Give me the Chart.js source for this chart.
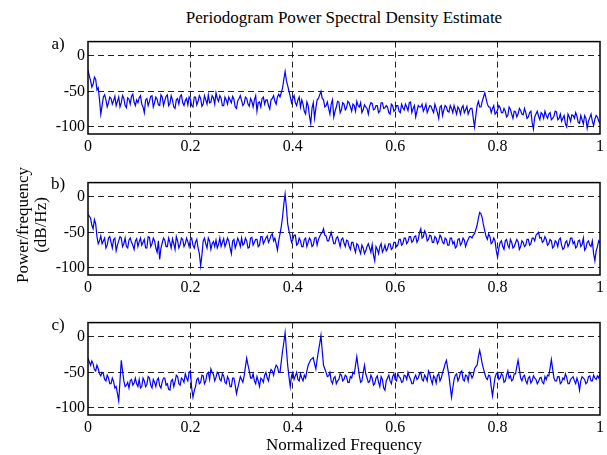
<!DOCTYPE html>
<html>
<head>
<meta charset="utf-8">
<script src="https://cdn.jsdelivr.net/npm/chart.js@4"></script>
<style>
  html, body { margin: 0; padding: 0; background: #fff; }
  #wrap { position: relative; width: 607px; height: 455px; overflow: hidden; font-family: "Liberation Serif", "Times New Roman", serif; color: #000; }
  canvas { position: absolute; left: 0; }
  .t { position: absolute; white-space: nowrap; font-size: 17px; line-height: 17px; transform: translate(-50%, -50%); }
  .r { transform: translate(-50%, -50%) rotate(-90deg); }
</style>
</head>
<body>
<div id="wrap">
  <canvas id="ca" width="607" height="127" style="top:29px"></canvas>
  <canvas id="cb" width="607" height="127" style="top:170px"></canvas>
  <canvas id="cc" width="607" height="127" style="top:310px"></canvas>
  <div class="t" style="left:344px; top:17px;">Periodogram Power Spectral Density Estimate</div>
  <div class="t" style="left:58px; top:43px;">a)</div>
  <div class="t" style="left:58px; top:183px;">b)</div>
  <div class="t" style="left:58px; top:324px;">c)</div>
  <div class="t r" style="left:22px; top:225px;">Power/frequency</div>
  <div class="t r" style="left:40px; top:225px;">(dB/Hz)</div>
  <div class="t" style="left:344px; top:444px;">Normalized Frequency</div>
</div>
<script>
// Frequency step of the sampled estimates (normalized frequency 0..1)
const freqStep = 0.005;
const xTicks = [0, 0.2, 0.4, 0.6, 0.8, 1];
const yTicks = [-100, -50, 0];

// a) PSD estimate (dB/Hz) at k*freqStep
const psdA = [
  -20, -35, -40, -33, -45, -82, -58, -62, -66, -60,
  -63, -70, -58, -66, -60, -73, -61, -57, -65, -62,
  -59, -68, -80, -60, -64, -56, -66, -61, -70, -58,
  -63, -55, -67, -62, -74, -60, -57, -66, -63, -69,
  -61, -72, -58, -64, -60, -68, -62, -55, -65, -59,
  -52, -64, -60, -70, -62, -58, -66, -61, -74, -60,
  -63, -67, -60, -71, -64, -62, -78, -65, -60, -68,
  -62, -75, -60, -64, -58, -58, -45, -22, -42, -57,
  -60, -66, -62, -72, -68, -82, -70, -95, -66, -74,
  -60, -50, -62, -70, -74, -68, -86, -72, -65, -76,
  -68, -73, -66, -78, -70, -64, -72, -80, -69, -74,
  -71, -67, -75, -70, -78, -66, -73, -72, -82, -70,
  -76, -70, -80, -73, -68, -77, -65, -74, -86, -70,
  -72, -78, -68, -75, -71, -80, -74, -88, -70, -76,
  -72, -79, -74, -70, -82, -75, -73, -80, -71, -77,
  -74, -100, -70, -72, -64, -52, -68, -72, -74, -82,
  -76, -73, -80, -78, -84, -75, -88, -79, -82, -77,
  -83, -80, -86, -78, -103, -82, -85, -80, -88, -84,
  -82, -90, -85, -79, -88, -92, -84, -100, -86, -83,
  -88, -85, -95, -90, -84, -102, -87, -92, -89, -86,
  -95
];
// a) PSD estimate at (k+0.5)*freqStep
const psdAMid = [
  -28, -44, -30, -48, -62, -70, -55, -72, -58, -68,
  -57, -64, -72, -56, -70, -59, -68, -54, -70, -66,
  -56, -72, -62, -70, -57, -72, -58, -69, -55, -70,
  -57, -70, -56, -72, -62, -68, -55, -70, -60, -58,
  -70, -58, -69, -56, -71, -56, -68, -66, -56, -68,
  -60, -56, -70, -58, -68, -62, -57, -72, -63, -56,
  -70, -58, -68, -60, -72, -56, -66, -72, -58, -62,
  -70, -62, -56, -68, -54, -52, -33, -35, -50, -66,
  -56, -70, -58, -62, -78, -65, -85, -74, -88, -62,
  -55, -60, -72, -65, -82, -62, -78, -64, -80, -66,
  -76, -64, -72, -68, -78, -70, -66, -76, -72, -82,
  -66, -76, -70, -80, -66, -74, -70, -80, -68, -78,
  -70, -78, -68, -76, -72, -66, -80, -70, -78, -72,
  -68, -74, -80, -70, -76, -68, -80, -72, -84, -70,
  -78, -70, -80, -76, -72, -82, -70, -76, -82, -74,
  -88, -84, -64, -72, -58, -60, -72, -80, -70, -80,
  -70, -80, -74, -86, -72, -82, -78, -86, -74, -82,
  -74, -88, -80, -94, -86, -78, -90, -82, -78, -88,
  -80, -88, -78, -90, -82, -88, -96, -82, -92, -84,
  -80, -94, -84, -96, -88, -92, -82, -98, -84, -92
];

// b) PSD estimate (dB/Hz) at k*freqStep
const psdB = [
  -25, -30, -45, -38, -66, -55, -62, -72, -58, -64,
  -60, -76, -62, -58, -66, -70, -61, -64, -74, -59,
  -63, -68, -60, -72, -57, -66, -62, -78, -88, -65,
  -61, -70, -64, -59, -74, -62, -67, -60, -66, -63,
  -60, -68, -64, -72, -97, -62, -66, -58, -74, -63,
  -61, -67, -70, -59, -65, -62, -80, -60, -66, -63,
  -58, -66, -62, -71, -57, -64, -60, -68, -56, -62,
  -55, -60, -52, -58, -75, -52, -28, 4, -38, -55,
  -60, -54, -66, -62, -70, -58, -64, -61, -68, -57,
  -60, -52, -45, -55, -62, -50, -66, -58, -63, -60,
  -65, -61, -70, -64, -72, -66, -75, -68, -80, -70,
  -72, -67, -90, -74, -70, -78, -68, -73, -66, -72,
  -64, -68, -60, -66, -58, -63, -56, -62, -55, -60,
  -45, -56, -52, -60, -55, -64, -58, -62, -57, -66,
  -60, -68, -58, -63, -70, -59, -65, -61, -64, -56,
  -58, -52, -40, -22, -30, -48, -60, -56, -64, -62,
  -85, -64, -70, -62, -68, -60, -72, -65, -63, -70,
  -64, -68, -60, -66, -58, -54, -50, -57, -62, -60,
  -66, -62, -70, -64, -60, -68, -72, -62, -66, -58,
  -63, -70, -61, -67, -75, -64, -68, -62, -90, -70,
  -65
];
// b) PSD estimate at (k+0.5)*freqStep
const psdBMid = [
  -27, -40, -32, -56, -62, -66, -58, -68, -56, -72,
  -58, -68, -56, -70, -58, -72, -58, -68, -62, -70,
  -58, -64, -72, -56, -70, -58, -72, -62, -72, -58,
  -70, -58, -72, -66, -56, -72, -58, -70, -58, -70,
  -58, -72, -60, -80, -82, -58, -72, -62, -66, -70,
  -72, -58, -64, -70, -58, -72, -62, -72, -58, -70,
  -68, -58, -72, -58, -68, -60, -70, -56, -66, -58,
  -64, -54, -62, -66, -62, -42, -10, -15, -48, -64,
  -54, -68, -58, -70, -60, -70, -58, -70, -58, -68,
  -56, -50, -54, -62, -56, -58, -66, -56, -70, -58,
  -70, -62, -74, -64, -78, -68, -80, -72, -76, -66,
  -78, -82, -70, -80, -66, -74, -76, -66, -74, -64,
  -70, -60, -68, -58, -66, -56, -64, -56, -64, -50,
  -58, -48, -62, -54, -64, -56, -66, -54, -64, -58,
  -68, -58, -66, -72, -60, -68, -58, -70, -60, -56,
  -54, -46, -30, -24, -40, -56, -52, -66, -58, -76,
  -72, -62, -74, -60, -72, -64, -70, -60, -74, -62,
  -70, -60, -68, -58, -62, -52, -58, -64, -56, -68,
  -60, -72, -62, -70, -58, -74, -64, -70, -58, -66,
  -72, -62, -70, -58, -72, -62, -70, -80, -76, -62
];

// c) PSD estimate (dB/Hz) at k*freqStep
const psdC = [
  -30, -40, -38, -48, -45, -55, -52, -62, -58, -66,
  -63, -70, -90, -33, -62, -68, -72, -60, -65, -66,
  -60, -70, -62, -67, -58, -72, -64, -61, -69, -63,
  -58, -66, -75, -60, -63, -56, -68, -60, -52, -62,
  -48, -85, -70, -58, -64, -55, -62, -50, -45, -53,
  -57, -52, -62, -55, -66, -60, -70, -58, -80, -64,
  -60, -55, -30, -48, -58, -62, -56, -70, -60, -54,
  -58, -52, -48, -45, -42, -50, -20, 6, -40, -70,
  -50, -55, -60, -52, -62, -58, -40, -32, -29, -45,
  -20, 2, -40, -50, -55, -62, -58, -66, -60, -54,
  -60, -56, -64, -58, -52, -28, -55, -62, -40, -58,
  -63, -58, -66, -55, -70, -60, -75, -58, -62, -56,
  -60, -52, -58, -63, -55, -50, -60, -66, -54, -58,
  -50, -62, -57, -48, -60, -55, -65, -52, -58, -45,
  -33, -55, -85, -60, -52, -58, -48, -62, -55, -50,
  -58, -45, -40, -19, -38, -52, -60, -55, -83, -57,
  -50, -58, -54, -62, -48, -55, -60, -52, -33, -58,
  -56, -62, -58, -65, -55, -60, -63, -57, -66, -60,
  -55, -32, -58, -62, -56, -64, -60, -57, -66, -58,
  -62, -58, -75, -56, -60, -64, -55, -62, -58, -55,
  -52
];
// c) PSD estimate at (k+0.5)*freqStep
const psdCMid = [
  -35, -34, -46, -40, -52, -50, -60, -54, -66, -58,
  -72, -80, -62, -48, -70, -64, -62, -68, -58, -70,
  -72, -58, -70, -56, -68, -60, -70, -58, -72, -58,
  -68, -74, -62, -70, -54, -66, -58, -64, -58, -50,
  -72, -76, -60, -66, -54, -66, -52, -60, -50, -62,
  -50, -60, -52, -64, -56, -70, -58, -68, -72, -56,
  -64, -42, -40, -58, -52, -66, -62, -58, -64, -50,
  -62, -46, -54, -40, -50, -35, -8, -18, -56, -55,
  -60, -50, -62, -58, -54, -48, -36, -31, -38, -32,
  -10, -20, -45, -56, -50, -66, -56, -62, -52, -62,
  -54, -64, -56, -50, -40, -42, -64, -50, -52, -64,
  -54, -68, -58, -64, -56, -72, -62, -54, -66, -52,
  -62, -56, -64, -54, -60, -56, -66, -58, -60, -52,
  -60, -54, -62, -52, -66, -58, -54, -62, -50, -38,
  -44, -70, -72, -54, -62, -50, -60, -54, -62, -52,
  -54, -42, -28, -28, -45, -58, -54, -70, -70, -52,
  -60, -52, -64, -54, -58, -62, -52, -42, -45, -62,
  -54, -66, -56, -62, -58, -66, -58, -64, -56, -54,
  -44, -45, -62, -56, -66, -58, -52, -66, -60, -56,
  -66, -64, -62, -58, -66, -56, -62, -54, -60, -58
];

const TICK_FONT = { family: '"Liberation Serif", "Times New Roman", serif', size: 16 };

const boxPlugin = {
  id: 'box',
  afterDraw(chart) {
    const a = chart.chartArea, ctx = chart.ctx;
    ctx.save();
    ctx.strokeStyle = '#000';
    ctx.lineWidth = 1.5;
    ctx.strokeRect(a.left, a.top, a.right - a.left, a.bottom - a.top);
    ctx.restore();
  }
};

function buildPoints(onGrid, mid) {
  const pts = [];
  for (let i = 0; i < onGrid.length; i++) {
    pts.push({ x: i * freqStep, y: onGrid[i] });
    if (i < mid.length) pts.push({ x: (i + 0.5) * freqStep, y: mid[i] });
  }
  return pts;
}

function makeChart(id, onGrid, mid) {
  return new Chart(document.getElementById(id), {
    type: 'line',
    data: { datasets: [{ data: buildPoints(onGrid, mid), borderColor: '#0000ff', borderWidth: 1.2, pointRadius: 0, tension: 0, fill: false }] },
    options: {
      responsive: false,
      animation: false,
      devicePixelRatio: 1,
      layout: { padding: { top: 5, right: 7, left: 0, bottom: 0 } },
      plugins: { legend: { display: false }, tooltip: { enabled: false }, title: { display: false } },
      scales: {
        x: {
          type: 'linear', min: 0, max: 1,
          afterBuildTicks: s => { s.ticks = xTicks.map(v => ({ value: v })); },
          afterFit: s => { s.height = 22; },
          ticks: { color: '#000', font: TICK_FONT, padding: 3, maxRotation: 0, autoSkip: false,
                   callback: v => String(Number(v.toFixed(1))) },
          grid: { drawTicks: false, lineWidth: 1,
                  color: c => (c.tick && c.tick.value > 0.001 && c.tick.value < 0.999) ? '#222' : 'rgba(0,0,0,0)' },
          border: { display: false, dash: [6, 4] }
        },
        y: {
          type: 'linear', min: -110, max: 20,
          afterBuildTicks: s => { s.ticks = yTicks.map(v => ({ value: v })); },
          afterFit: s => { s.width = 88; },
          ticks: { color: '#000', font: TICK_FONT, padding: 3, autoSkip: false },
          grid: { drawTicks: false, lineWidth: 1, color: '#222' },
          border: { display: false, dash: [6, 4] }
        }
      }
    },
    plugins: [boxPlugin]
  });
}

makeChart('ca', psdA, psdAMid);
makeChart('cb', psdB, psdBMid);
makeChart('cc', psdC, psdCMid);
</script>
</body>
</html>
